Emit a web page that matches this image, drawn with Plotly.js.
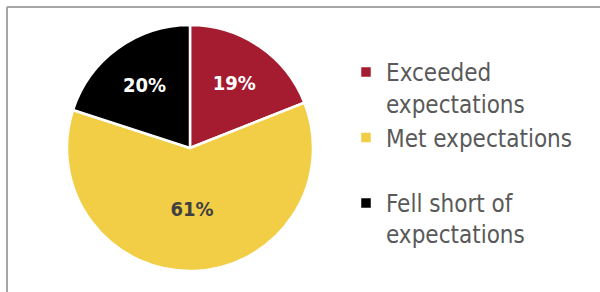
<!DOCTYPE html>
<html>
<head>
<meta charset="utf-8">
<script src="https://cdn.plot.ly/plotly-3.0.1.min.js"></script>
<style>html,body{margin:0;padding:0;background:#fff;}#chart{width:600px;height:292px;}</style>
</head>
<body>
<div id="chart"></div>
<script>
const categories = ["Exceeded<br>expectations", "Met expectations<br> ", "Fell short of<br>expectations"];
const shares = [19, 61, 20];
const sliceColors = ["#A51C30", "#F2CE46", "#000000"];
const labelColors = ["#FFFFFF", "#404040", "#FFFFFF"];

const FONT = '"DejaVu Sans Condensed", "Noto Sans", sans-serif';

const data = [{
  type: "pie",
  labels: categories,
  values: shares,
  sort: false,
  direction: "clockwise",
  rotation: 0,
  textinfo: "percent",
  textposition: "inside",
  insidetextorientation: "horizontal",
  insidetextfont: {family: FONT, size: 20, color: labelColors, weight: "bold"},
  marker: {colors: sliceColors, line: {color: "#FFFFFF", width: 2.5}},
  domain: {x: [67/600, 313/600], y: [21/292, 267/292]},
  hoverinfo: "none"
}];

const layout = {
  width: 600, height: 292,
  margin: {l: 0, r: 0, t: 0, b: 0},
  paper_bgcolor: "#FFFFFF",
  showlegend: true,
  legend: {
    x: 346/600, xanchor: "left",
    y: (292-50)/292, yanchor: "top",
    valign: "top",
    font: {family: FONT, size: 24, color: "#595959"},
    itemwidth: 30,
    bgcolor: "rgba(0,0,0,0)"
  },
  shapes: [
    {type: "line", xref: "paper", yref: "paper", x0: 7/600, x1: 1.01, y0: (292-7)/292, y1: (292-7)/292, line: {color: "#A6A6A6", width: 2}},
    {type: "line", xref: "paper", yref: "paper", x0: 7/600, x1: 7/600, y0: -0.01, y1: (292-7)/292, line: {color: "#A6A6A6", width: 2}}
  ]
};

Plotly.newPlot("chart", data, layout, {staticPlot: true, displayModeBar: false});
</script>
</body>
</html>
